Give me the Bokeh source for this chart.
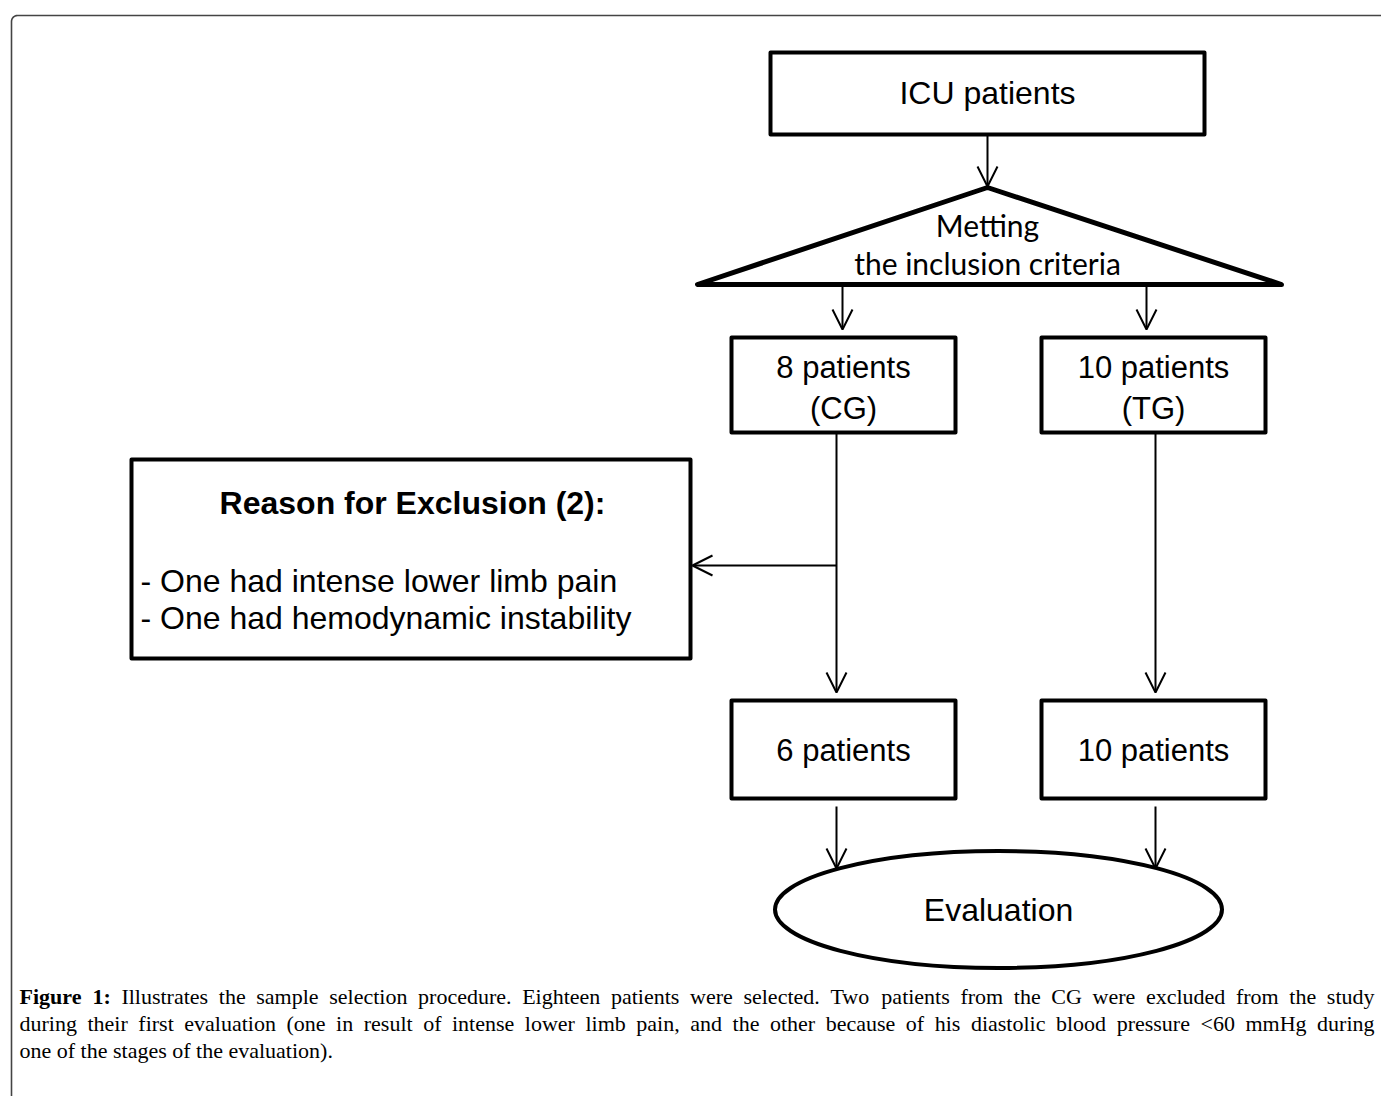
import numpy as np
from bokeh.plotting import figure
from bokeh.models import Range1d, Arrow, OpenHead
from bokeh.core.properties import value
from bokeh.embed import file_html
from bokeh.resources import INLINE

# ---- flowchart content ----
box_left = [770, 731, 1041, 131, 731, 1041]
box_right = [1204, 955, 1265, 690, 955, 1265]
box_top = [52, 337, 337, 459, 700, 700]
box_bottom = [134, 432, 432, 658, 798, 798]

node_text = ["ICU patients", "8 patients", "(CG)", "10 patients", "(TG)",
             "6 patients", "10 patients", "Evaluation"]
node_x = [987, 843, 843, 1153, 1153, 843, 1153, 998]
node_y = [92, 367, 408, 367, 408, 750, 750, 909]
node_size = ["32px", "31px", "31px", "31px", "31px", "31px", "31px", "32px"]

tri_x = [987, 697, 1281]
tri_y = [187, 284, 284]
tri_text = ["Metting", "the inclusion criteria"]
tri_text_y = [224, 262]

excl_title = "Reason for Exclusion (2):"
excl_items = ["- One had intense lower limb pain", "- One had hemodynamic instability"]
excl_items_y = [580, 617]

arrow_x0 = [987, 842, 1146, 836, 836, 1155, 836, 1155]
arrow_y0 = [134, 284, 284, 432, 565, 432, 806, 806]
arrow_x1 = [987, 842, 1146, 836, 692, 1155, 836, 1155]
arrow_y1 = [186, 329, 329, 692, 565, 692, 868, 868]

ell_x, ell_y, ell_w, ell_h = 998, 909, 447, 117

caption_bold = "Figure 1:"
caption_lines = [
    "Figure 1: Illustrates the sample selection procedure. Eighteen patients were selected. Two patients from the CG were excluded from the study",
    "during their first evaluation (one in result of intense lower limb pain, and the other because of his diastolic blood pressure <60 mmHg during",
    "one of the stages of the evaluation).",
]
caption_justify = [True, True, False]
caption_y = [996, 1023, 1050]

# approximate Times (Liberation Serif) advance widths, per em
_tw = dict(a=.444, b=.5, c=.444, d=.5, e=.444, f=.333, g=.5, h=.5, i=.278, j=.278, k=.5,
           l=.278, m=.778, n=.5, o=.5, p=.5, q=.5, r=.333, s=.389, t=.278, u=.5, v=.5,
           w=.722, x=.5, y=.5, z=.444)
_tw.update({"C": .667, "E": .611, "F": .556, "G": .722, "H": .722, "I": .333, "T": .611,
            ".": .25, ",": .25, ":": .278, "(": .333, ")": .333, "<": .564, " ": .25})
for d in "0123456789":
    _tw[d] = .5
_tb = dict(_tw)
_tb.update({"F": .611, "i": .278, "g": .5, "u": .556, "r": .444, "e": .444, ":": .333})


def tw(s, bold=False):
    tab = _tb if bold else _tw
    return sum(tab.get(ch, .5) for ch in s)


W, H = 1381, 1096
p = figure(width=W, height=H, x_range=Range1d(0, W), y_range=Range1d(H, 0),
           output_backend="svg", toolbar_location=None, min_border=0)
p.axis.visible = False
p.grid.visible = False
p.outline_line_color = None
p.background_fill_color = "white"
p.border_fill_color = "white"

# outer rounded frame (cropped at right & bottom)
r = 6
ang = np.linspace(np.pi, 1.5 * np.pi, 10)
fx = [1400] + list(11 + r + r * np.cos(ang[::-1])) + [11]
fy = [15] + list(15 + r + r * np.sin(ang[::-1])) + [1110]
p.line(fx, fy, line_color="#444444", line_width=1.6)

# boxes
p.quad(left=box_left, right=box_right, top=box_top, bottom=box_bottom,
       fill_color="white", line_color="black", line_width=4, line_join="round")

# triangle
p.patch(tri_x, tri_y, fill_color="white", line_color="black", line_width=5, line_join="round")

# ellipse
p.ellipse(x=[ell_x], y=[ell_y], width=[ell_w], height=[ell_h],
          fill_color="white", line_color="black", line_width=4)

# arrows
for x0, y0, x1, y1 in zip(arrow_x0, arrow_y0, arrow_x1, arrow_y1):
    p.add_layout(Arrow(x_start=x0, y_start=y0, x_end=x1, y_end=y1,
                       line_width=2, line_color="black",
                       end=OpenHead(size=20, line_width=2, line_color="black")))

sans = value("Liberation Sans")
p.text(x=node_x, y=node_y, text=node_text, text_font=sans, text_font_size=node_size,
       text_align="center", text_baseline="middle", text_color="black")

p.text(x=[987, 987], y=tri_text_y, text=tri_text, text_font=value("Lato"),
       text_font_size="30px", text_align="center", text_baseline="middle", text_color="black")

p.text(x=[412], y=[502], text=[excl_title], text_font=sans, text_font_size="32px",
       text_font_style="bold", text_align="center", text_baseline="middle", text_color="black")
p.text(x=[140, 140], y=excl_items_y, text=excl_items, text_font=sans, text_font_size="32px",
       text_align="left", text_baseline="middle", text_color="black")

# caption, justified word by word
serif = value("Liberation Serif")
fs = 22
x_left, x_right = 19, 1374
nbold = len(caption_bold.split())
for li, (line, just, yy) in enumerate(zip(caption_lines, caption_justify, caption_y)):
    words = line.split(" ")
    bold_flags = [(li == 0 and k < nbold) for k in range(len(words))]
    widths = [tw(w, b) * fs for w, b in zip(words, bold_flags)]
    if just and len(words) > 1:
        gap = (x_right - x_left - sum(widths)) / (len(words) - 1)
    else:
        gap = tw(" ") * fs
    xs, cx = [], x_left
    for wd in widths:
        xs.append(cx)
        cx += wd + gap
    nb = [w for w, b in zip(words, bold_flags) if not b]
    nbx = [x for x, b in zip(xs, bold_flags) if not b]
    bw = [w for w, b in zip(words, bold_flags) if b]
    bx = [x for x, b in zip(xs, bold_flags) if b]
    p.text(x=nbx, y=[yy] * len(nb), text=nb, text_font=serif, text_font_size=f"{fs}px",
           text_baseline="middle", text_color="black")
    if bw:
        p.text(x=bx, y=[yy] * len(bw), text=bw, text_font=serif, text_font_size=f"{fs}px",
               text_font_style="bold", text_baseline="middle", text_color="black")

open("out.html", "w").write(file_html(p, INLINE))
